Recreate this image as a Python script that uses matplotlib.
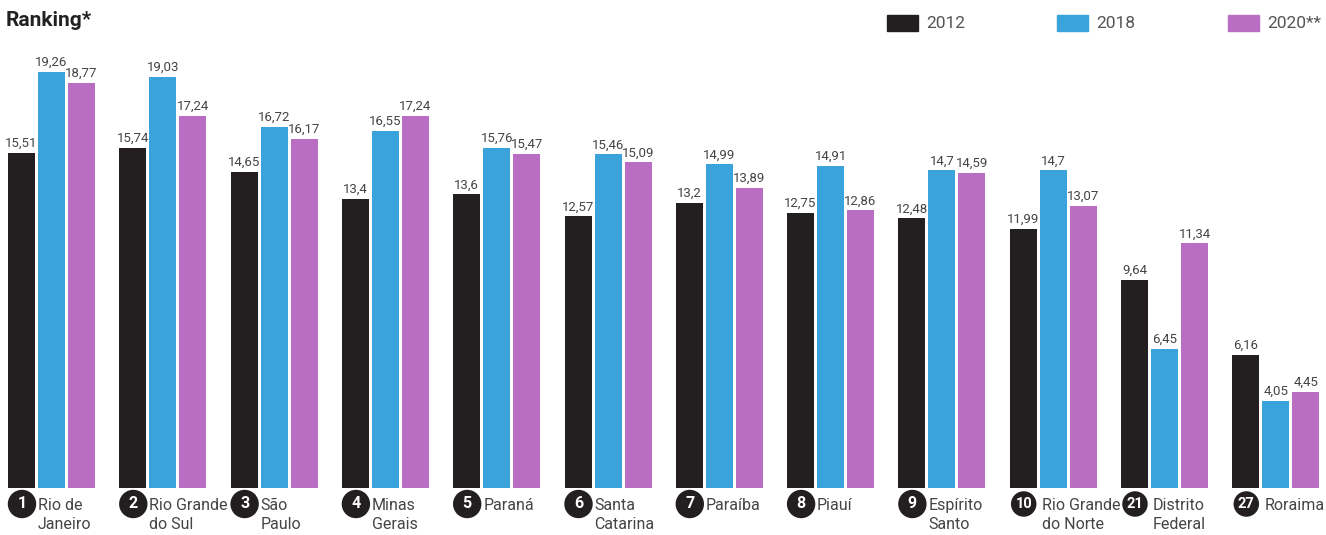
import numpy as np
import matplotlib
matplotlib.use('Agg')
import matplotlib.pyplot as plt
from matplotlib.patches import Rectangle

# dados
ranks = ['1', '2', '3', '4', '5', '6', '7', '8', '9', '10', '21', '27']
states = ['Rio de\nJaneiro', 'Rio Grande\ndo Sul', 'São\nPaulo', 'Minas\nGerais', 'Paraná',
          'Santa\nCatarina', 'Paraíba', 'Piauí', 'Espírito\nSanto', 'Rio Grande\ndo Norte',
          'Distrito\nFederal', 'Roraima']
v2012 = [15.51, 15.74, 14.65, 13.4, 13.6, 12.57, 13.2, 12.75, 12.48, 11.99, 9.64, 6.16]
v2018 = [19.26, 19.03, 16.72, 16.55, 15.76, 15.46, 14.99, 14.91, 14.7, 14.7, 6.45, 4.05]
v2020 = [18.77, 17.24, 16.17, 17.24, 15.47, 15.09, 13.89, 12.86, 14.59, 13.07, 11.34, 4.45]
series_labels = ['2012', '2018', '2020**']
colors = ['#231f20', '#3aa3dc', '#b96dc3']

FONT = ['Roboto', 'DejaVu Sans']
TXT = '#444444'

W, H = 1326, 535
fig = plt.figure(figsize=(W / 100, H / 100), dpi=100)
base_px, top_px = 488, 30
ax = fig.add_axes([0, (H - base_px) / H, 1, (base_px - top_px) / H])

pitch = 111.3
c0 = 51.5
ax.set_xlim(-c0 / pitch, (W - c0) / pitch)
ax.set_ylim(0, (base_px - top_px) / 21.6)
ax.axis('off')

x = np.arange(len(states))
bw = 27 / pitch
off = 30 / pitch
for k, vals in enumerate([v2012, v2018, v2020]):
    xs = x + (k - 1) * off
    ax.bar(xs, vals, width=bw, color=colors[k])
    for xi, v in zip(xs, vals):
        s = ('%g' % v).replace('.', ',')
        ax.annotate(s, (xi, v), xytext=(0, 2), textcoords='offset points',
                    ha='center', va='bottom', fontsize=9.5, color=TXT, family=FONT)

# rótulos de baixo
tr = ax.get_xaxis_transform()
ax_h = base_px - top_px
for i in range(len(states)):
    left = x[i] - c0 / pitch + 8 / pitch
    cx = left + 14 / pitch
    two = len(ranks[i]) > 1
    ax.text(cx, (base_px - 504) / ax_h, ranks[i], transform=tr,
            ha='center', va='center', fontsize=10.5 if two else 11.5, fontweight='bold',
            color='white', family=FONT, clip_on=False,
            bbox=dict(boxstyle='circle,pad=0.3' if two else 'circle,pad=0.42',
                      fc='#231f20', ec='none'))
    ax.text(cx + (18 if two else 16) / pitch, (base_px - 498) / ax_h,
            states[i], transform=tr, ha='left', va='top', fontsize=11.5,
            color=TXT, family=FONT, linespacing=1.35, clip_on=False)

# título e legenda
fig.text(6 / W, 1 - 20 / H, 'Ranking*', fontsize=15, fontweight='bold', color='#222222',
         family=FONT, ha='left', va='center')
leg_x = [887, 1057, 1228]
for k in range(3):
    fig.add_artist(Rectangle((leg_x[k] / W, 1 - 31 / H), 31 / W, 16 / H,
                             transform=fig.transFigure, color=colors[k]))
    fig.text((leg_x[k] + 39) / W, 1 - 23 / H, series_labels[k], fontsize=12.5,
             color='#555555', family=FONT, ha='left', va='center')

fig.savefig('out.png', dpi=100, facecolor='white')
